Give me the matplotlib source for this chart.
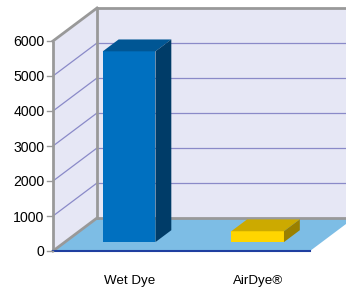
import matplotlib
matplotlib.use("Agg")
import matplotlib.pyplot as plt
from matplotlib.patches import Polygon

categories = ["Wet Dye", "AirDye®"]
values = [5450, 310]
yticks = [0, 1000, 2000, 3000, 4000, 5000, 6000]
front_colors = ["#0070C0", "#FFD500"]
top_colors = ["#005694", "#CCAA00"]
side_colors = ["#003C68", "#9A8000"]

W, H = 346, 289
fig = plt.figure(figsize=(W / 100, H / 100), dpi=100)
ax = fig.add_axes([0, 0, 1, 1])
ax.set_axis_off()

# scale: pixels per unit
px_cat = 128.5
px_val = 0.035
x_left_px = 53
y_zero_px = H - 251
ax.set_xlim(-0.5 - x_left_px / px_cat, -0.5 + (W - x_left_px) / px_cat)
ax.set_ylim(-y_zero_px / px_val, (H - y_zero_px) / px_val)

DX = 44 / px_cat
DY = 33 / px_val
x0, x1 = -0.5, len(categories) - 0.5
vmax = yticks[-1]

wall = "#E6E7F5"
grid = "#8A8AC8"
edge = "#999999"

# walls
ax.add_patch(Polygon([(x0, 0), (x0 + DX, DY), (x0 + DX, vmax + DY), (x0, vmax)],
                     closed=True, fc=wall, ec="none", zorder=1))
ax.add_patch(Polygon([(x0 + DX, DY), (x1 + DX + 1, DY), (x1 + DX + 1, vmax + DY), (x0 + DX, vmax + DY)],
                     closed=True, fc=wall, ec="none", zorder=1))
# floor
ax.add_patch(Polygon([(x0, 0), (x1, 0), (x1 + DX, DY), (x0 + DX, DY)],
                     closed=True, fc="#7DBDE5", ec="none", zorder=1))

# gridlines
for v in yticks[1:-1]:
    ax.plot([x0, x0 + DX], [v, v + DY], color=grid, lw=0.9, zorder=2)
    ax.plot([x0 + DX, x1 + DX + 1], [v + DY, v + DY], color=grid, lw=0.9, zorder=2)

# wall edges
ax.plot([x0, x0], [0, vmax], color=edge, lw=2, zorder=3, solid_capstyle="butt")
ax.plot([x0, x0 + DX], [vmax, vmax + DY], color=edge, lw=2, zorder=3)
ax.plot([x0 + DX, x1 + DX + 1], [vmax + DY, vmax + DY], color=edge, lw=2, zorder=3)
ax.plot([x0 + DX, x0 + DX], [DY, vmax + DY], color=edge, lw=2, zorder=3)
ax.plot([x0 + DX, x1 + DX + 1], [DY, DY], color=edge, lw=2, zorder=3)
ax.plot([x0, x0 + DX], [0, DY], color=edge, lw=2, zorder=3)
ax.plot([x0, x1], [0, 0], color="#1F3FA0", lw=1.5, zorder=3)

# ticks and labels
for v in yticks:
    ax.plot([x0 - 6 / px_cat, x0], [v, v], color=edge, lw=1, zorder=3)
    ax.text(x0 - 8.5 / px_cat, v, str(v), ha="right", va="center_baseline",
            fontsize=10.2, family="Liberation Sans", color="black")

for i, c in enumerate(categories):
    ax.text(i + 12.5 / px_cat, -929, c, ha="center", va="baseline",
            fontsize=9.6, family="Liberation Sans", color="black")

# bars
bw = 0.41
d0, d1 = 0.27, 0.63
for i, v in enumerate(values):
    bx0 = i - bw / 2 + d0 * DX
    bx1 = i + bw / 2 + d0 * DX
    by0 = d0 * DY
    ddx = (d1 - d0) * DX
    ddy = (d1 - d0) * DY
    ax.add_patch(Polygon([(bx0, by0), (bx1, by0), (bx1, by0 + v), (bx0, by0 + v)],
                         closed=True, fc=front_colors[i], ec="none", zorder=5))
    ax.add_patch(Polygon([(bx0, by0 + v), (bx1, by0 + v), (bx1 + ddx, by0 + v + ddy), (bx0 + ddx, by0 + v + ddy)],
                         closed=True, fc=top_colors[i], ec="none", zorder=5))
    ax.add_patch(Polygon([(bx1, by0), (bx1 + ddx, by0 + ddy), (bx1 + ddx, by0 + v + ddy), (bx1, by0 + v)],
                         closed=True, fc=side_colors[i], ec="none", zorder=5))

fig.savefig("out.png", dpi=100)
